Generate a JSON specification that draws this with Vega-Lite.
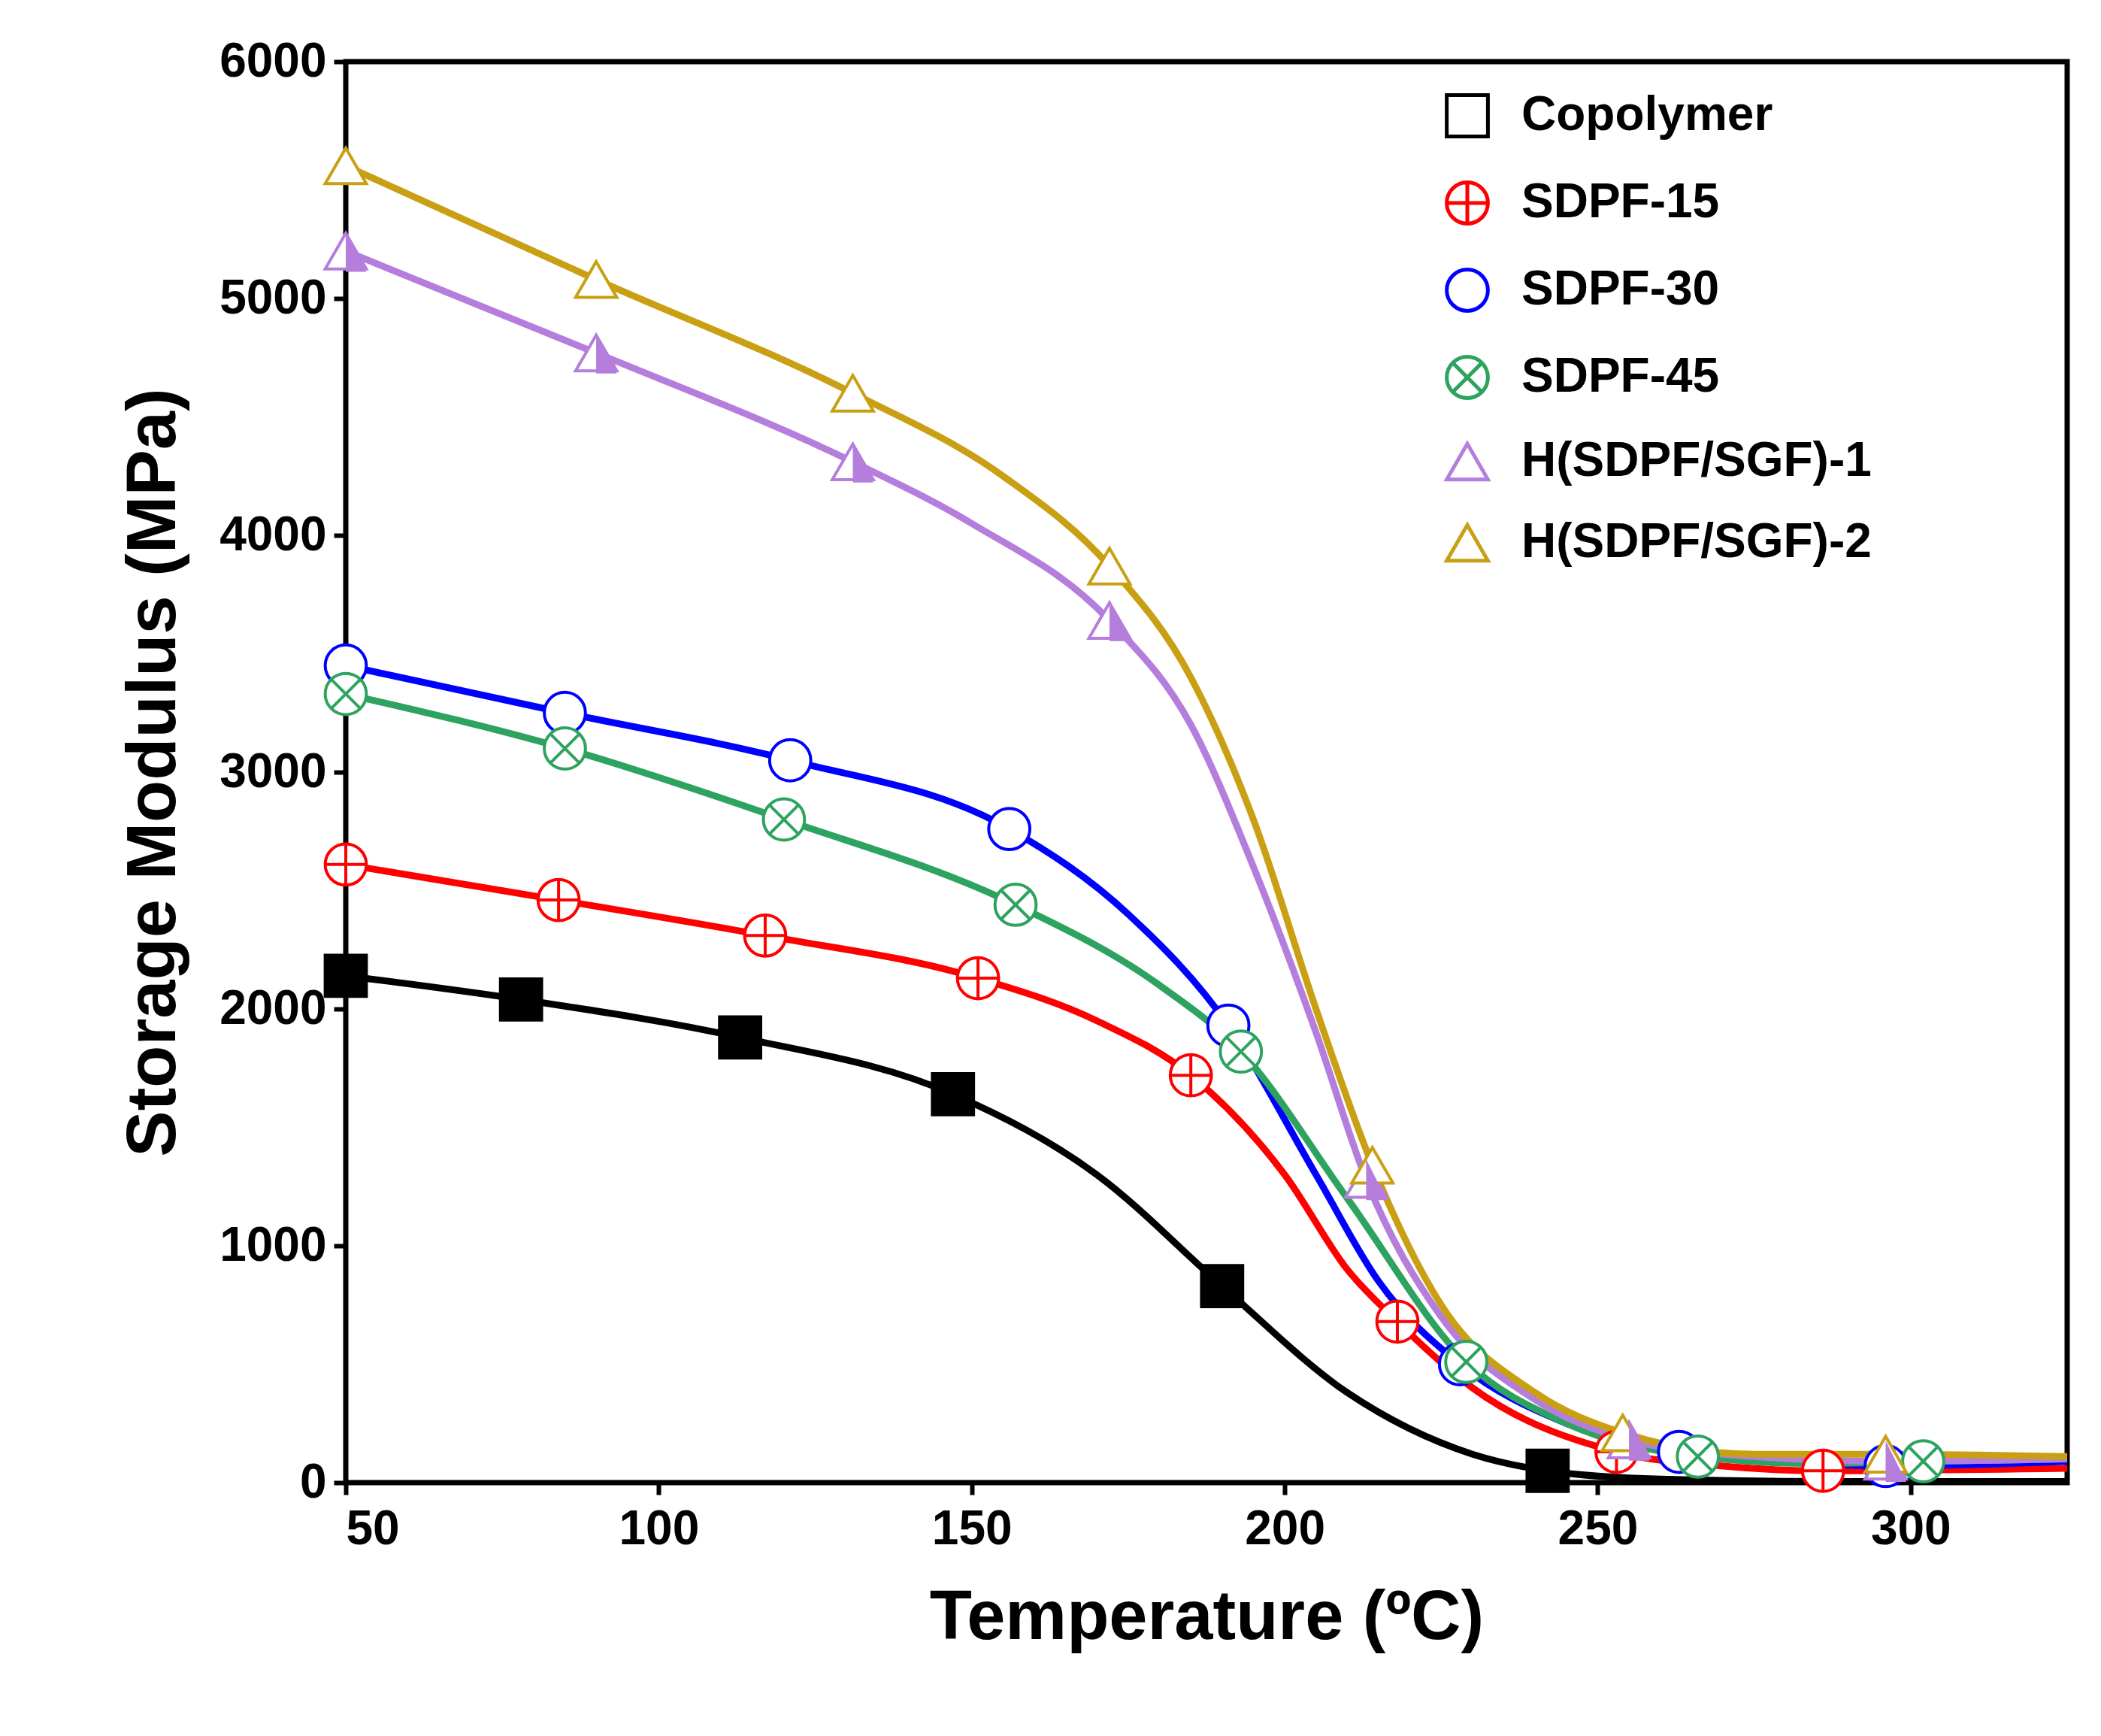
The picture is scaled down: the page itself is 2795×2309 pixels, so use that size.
{
  "$schema": "https://vega.github.io/schema/vega-lite/v6.json",
  "width": 2290,
  "height": 1890,
  "autosize": "none",
  "padding": {"left": 460, "top": 82, "right": 45, "bottom": 337},
  "background": "white",
  "config": {
    "font": "Liberation Sans",
    "view": {"stroke": "black", "strokeWidth": 7},
    "axis": {"labelFontSize": 64, "labelFontWeight": "bold", "titleFontSize": 92, "titleFontWeight": "bold", "labelColor": "black", "titleColor": "black", "domain": false, "grid": false, "tickColor": "black", "tickWidth": 6, "tickSize": 16, "format": "d"}
  },
  "data": {"values": [
    {"s":"Copolymer","t":50,"e":2140,"m":1},{"s":"Copolymer","t":78,"e":2040,"m":1},{"s":"Copolymer","t":113,"e":1880,"m":1},{"s":"Copolymer","t":147,"e":1640,"m":1},{"s":"Copolymer","t":170,"e":1300,"m":0},{"s":"Copolymer","t":190,"e":830,"m":1},{"s":"Copolymer","t":210,"e":380,"m":0},{"s":"Copolymer","t":230,"e":120,"m":0},{"s":"Copolymer","t":242,"e":50,"m":1},{"s":"Copolymer","t":260,"e":15,"m":0},{"s":"Copolymer","t":290,"e":5,"m":0},{"s":"Copolymer","t":325,"e":5,"m":0},
    {"s":"SDPF-15","t":50,"e":2610,"m":1},{"s":"SDPF-15","t":84,"e":2460,"m":1},{"s":"SDPF-15","t":117,"e":2310,"m":1},{"s":"SDPF-15","t":151,"e":2130,"m":1},{"s":"SDPF-15","t":170,"e":1950,"m":0},{"s":"SDPF-15","t":185,"e":1720,"m":1},{"s":"SDPF-15","t":200,"e":1300,"m":0},{"s":"SDPF-15","t":210,"e":900,"m":0},{"s":"SDPF-15","t":218,"e":680,"m":1},{"s":"SDPF-15","t":230,"e":400,"m":0},{"s":"SDPF-15","t":253,"e":130,"m":1},{"s":"SDPF-15","t":270,"e":70,"m":0},{"s":"SDPF-15","t":286,"e":50,"m":1},{"s":"SDPF-15","t":325,"e":60,"m":0},
    {"s":"SDPF-30","t":50,"e":3450,"m":1},{"s":"SDPF-30","t":85,"e":3250,"m":1},{"s":"SDPF-30","t":121,"e":3050,"m":1},{"s":"SDPF-30","t":156,"e":2760,"m":1},{"s":"SDPF-30","t":175,"e":2400,"m":0},{"s":"SDPF-30","t":191,"e":1930,"m":1},{"s":"SDPF-30","t":205,"e":1300,"m":0},{"s":"SDPF-30","t":215,"e":850,"m":0},{"s":"SDPF-30","t":228,"e":500,"m":1},{"s":"SDPF-30","t":245,"e":250,"m":0},{"s":"SDPF-30","t":263,"e":130,"m":1},{"s":"SDPF-30","t":280,"e":90,"m":0},{"s":"SDPF-30","t":296,"e":70,"m":1},{"s":"SDPF-30","t":325,"e":90,"m":0},
    {"s":"SDPF-45","t":50,"e":3330,"m":1},{"s":"SDPF-45","t":85,"e":3100,"m":1},{"s":"SDPF-45","t":120,"e":2800,"m":1},{"s":"SDPF-45","t":157,"e":2440,"m":1},{"s":"SDPF-45","t":180,"e":2100,"m":0},{"s":"SDPF-45","t":193,"e":1820,"m":1},{"s":"SDPF-45","t":210,"e":1200,"m":0},{"s":"SDPF-45","t":229,"e":510,"m":1},{"s":"SDPF-45","t":245,"e":250,"m":0},{"s":"SDPF-45","t":266,"e":110,"m":1},{"s":"SDPF-45","t":285,"e":80,"m":0},{"s":"SDPF-45","t":302,"e":90,"m":1},{"s":"SDPF-45","t":325,"e":100,"m":0},
    {"s":"H(SDPF/SGF)-1","t":50,"e":5200,"m":1},{"s":"H(SDPF/SGF)-1","t":90,"e":4770,"m":1},{"s":"H(SDPF/SGF)-1","t":131,"e":4310,"m":1},{"s":"H(SDPF/SGF)-1","t":150,"e":4050,"m":0},{"s":"H(SDPF/SGF)-1","t":172,"e":3640,"m":1},{"s":"H(SDPF/SGF)-1","t":185,"e":3200,"m":0},{"s":"H(SDPF/SGF)-1","t":195,"e":2600,"m":0},{"s":"H(SDPF/SGF)-1","t":205,"e":1900,"m":0},{"s":"H(SDPF/SGF)-1","t":213,"e":1280,"m":1},{"s":"H(SDPF/SGF)-1","t":225,"e":700,"m":0},{"s":"H(SDPF/SGF)-1","t":240,"e":350,"m":0},{"s":"H(SDPF/SGF)-1","t":255,"e":180,"m":1},{"s":"H(SDPF/SGF)-1","t":275,"e":110,"m":0},{"s":"H(SDPF/SGF)-1","t":296,"e":90,"m":1},{"s":"H(SDPF/SGF)-1","t":325,"e":100,"m":0},
    {"s":"H(SDPF/SGF)-2","t":50,"e":5560,"m":1},{"s":"H(SDPF/SGF)-2","t":90,"e":5080,"m":1},{"s":"H(SDPF/SGF)-2","t":131,"e":4600,"m":1},{"s":"H(SDPF/SGF)-2","t":155,"e":4250,"m":0},{"s":"H(SDPF/SGF)-2","t":172,"e":3870,"m":1},{"s":"H(SDPF/SGF)-2","t":185,"e":3400,"m":0},{"s":"H(SDPF/SGF)-2","t":195,"e":2800,"m":0},{"s":"H(SDPF/SGF)-2","t":205,"e":2000,"m":0},{"s":"H(SDPF/SGF)-2","t":214,"e":1340,"m":1},{"s":"H(SDPF/SGF)-2","t":225,"e":750,"m":0},{"s":"H(SDPF/SGF)-2","t":240,"e":380,"m":0},{"s":"H(SDPF/SGF)-2","t":254,"e":210,"m":1},{"s":"H(SDPF/SGF)-2","t":275,"e":120,"m":0},{"s":"H(SDPF/SGF)-2","t":296,"e":120,"m":1},{"s":"H(SDPF/SGF)-2","t":325,"e":110,"m":0}
  ]},
  "encoding": {
    "x": {"field": "t", "type": "quantitative", "title": "Temperature (ºC)", "scale": {"domain": [50, 325], "nice": false}, "axis": {"values": [50,100,150,200,250,300], "titlePadding": 40, "labelPadding": 14}},
    "y": {"field": "e", "type": "quantitative", "title": "Storage Modulus (MPa)", "scale": {"domain": [0, 6000], "nice": false}, "axis": {"values": [0,1000,2000,3000,4000,5000,6000], "titlePadding": 40, "labelPadding": 10}}
  },
  "layer": [
    {
      "mark": {"type": "line", "interpolate": "monotone", "strokeWidth": 9},
      "encoding": {"stroke": {"field": "s", "type": "nominal", "title": null,
        "scale": {"domain": ["Copolymer","SDPF-15","SDPF-30","SDPF-45","H(SDPF/SGF)-1","H(SDPF/SGF)-2"], "range": ["#000000","#ff0000","#0000ff","#2ea35f","#b57edc","#c9a013"]},
        "legend": {"orient": "none", "legendX": 1460, "legendY": 40, "labelFontSize": 64, "labelFontWeight": "bold", "labelColor": "black", "labelLimit": 0, "symbolSize": 3000, "symbolStrokeWidth": 5, "symbolOpacity": 1, "rowPadding": 40, "labelOffset": 40, "symbolFillColor": "white"}}}
    },
    {
      "transform": [{"filter": "datum.m == 1"}],
      "mark": {"type": "point", "filled": false, "size": 3000, "strokeWidth": 4, "opacity": 1},
      "encoding": {
        "stroke": {"field": "s", "type": "nominal", "title": null},
        "shape": {"field": "s", "type": "nominal", "title": null,
          "scale": {"domain": ["Copolymer","SDPF-15","SDPF-30","SDPF-45","H(SDPF/SGF)-1","H(SDPF/SGF)-2"],
            "range": ["square","M-1,0A1,1 0 1,0 1,0A1,1 0 1,0 -1,0M-1,0L1,0M0,-1L0,1","circle","M-1,0A1,1 0 1,0 1,0A1,1 0 1,0 -1,0M-0.707,-0.707L0.707,0.707M-0.707,0.707L0.707,-0.707","triangle-up","triangle-up"]}},
        "fill": {"condition": {"test": "datum.s == 'Copolymer'", "value": "black"}, "value": "white"},
        "fillOpacity": {"value": 1}
      }
    },
    {
      "transform": [{"filter": "datum.m == 1 && datum.s == 'H(SDPF/SGF)-1'"}],
      "mark": {"type": "point", "filled": true, "size": 3000, "color": "#b57edc", "opacity": 1, "shape": "M0,-1L1,1L0,1Z"},
      "encoding": {}
    }
  ]
}
